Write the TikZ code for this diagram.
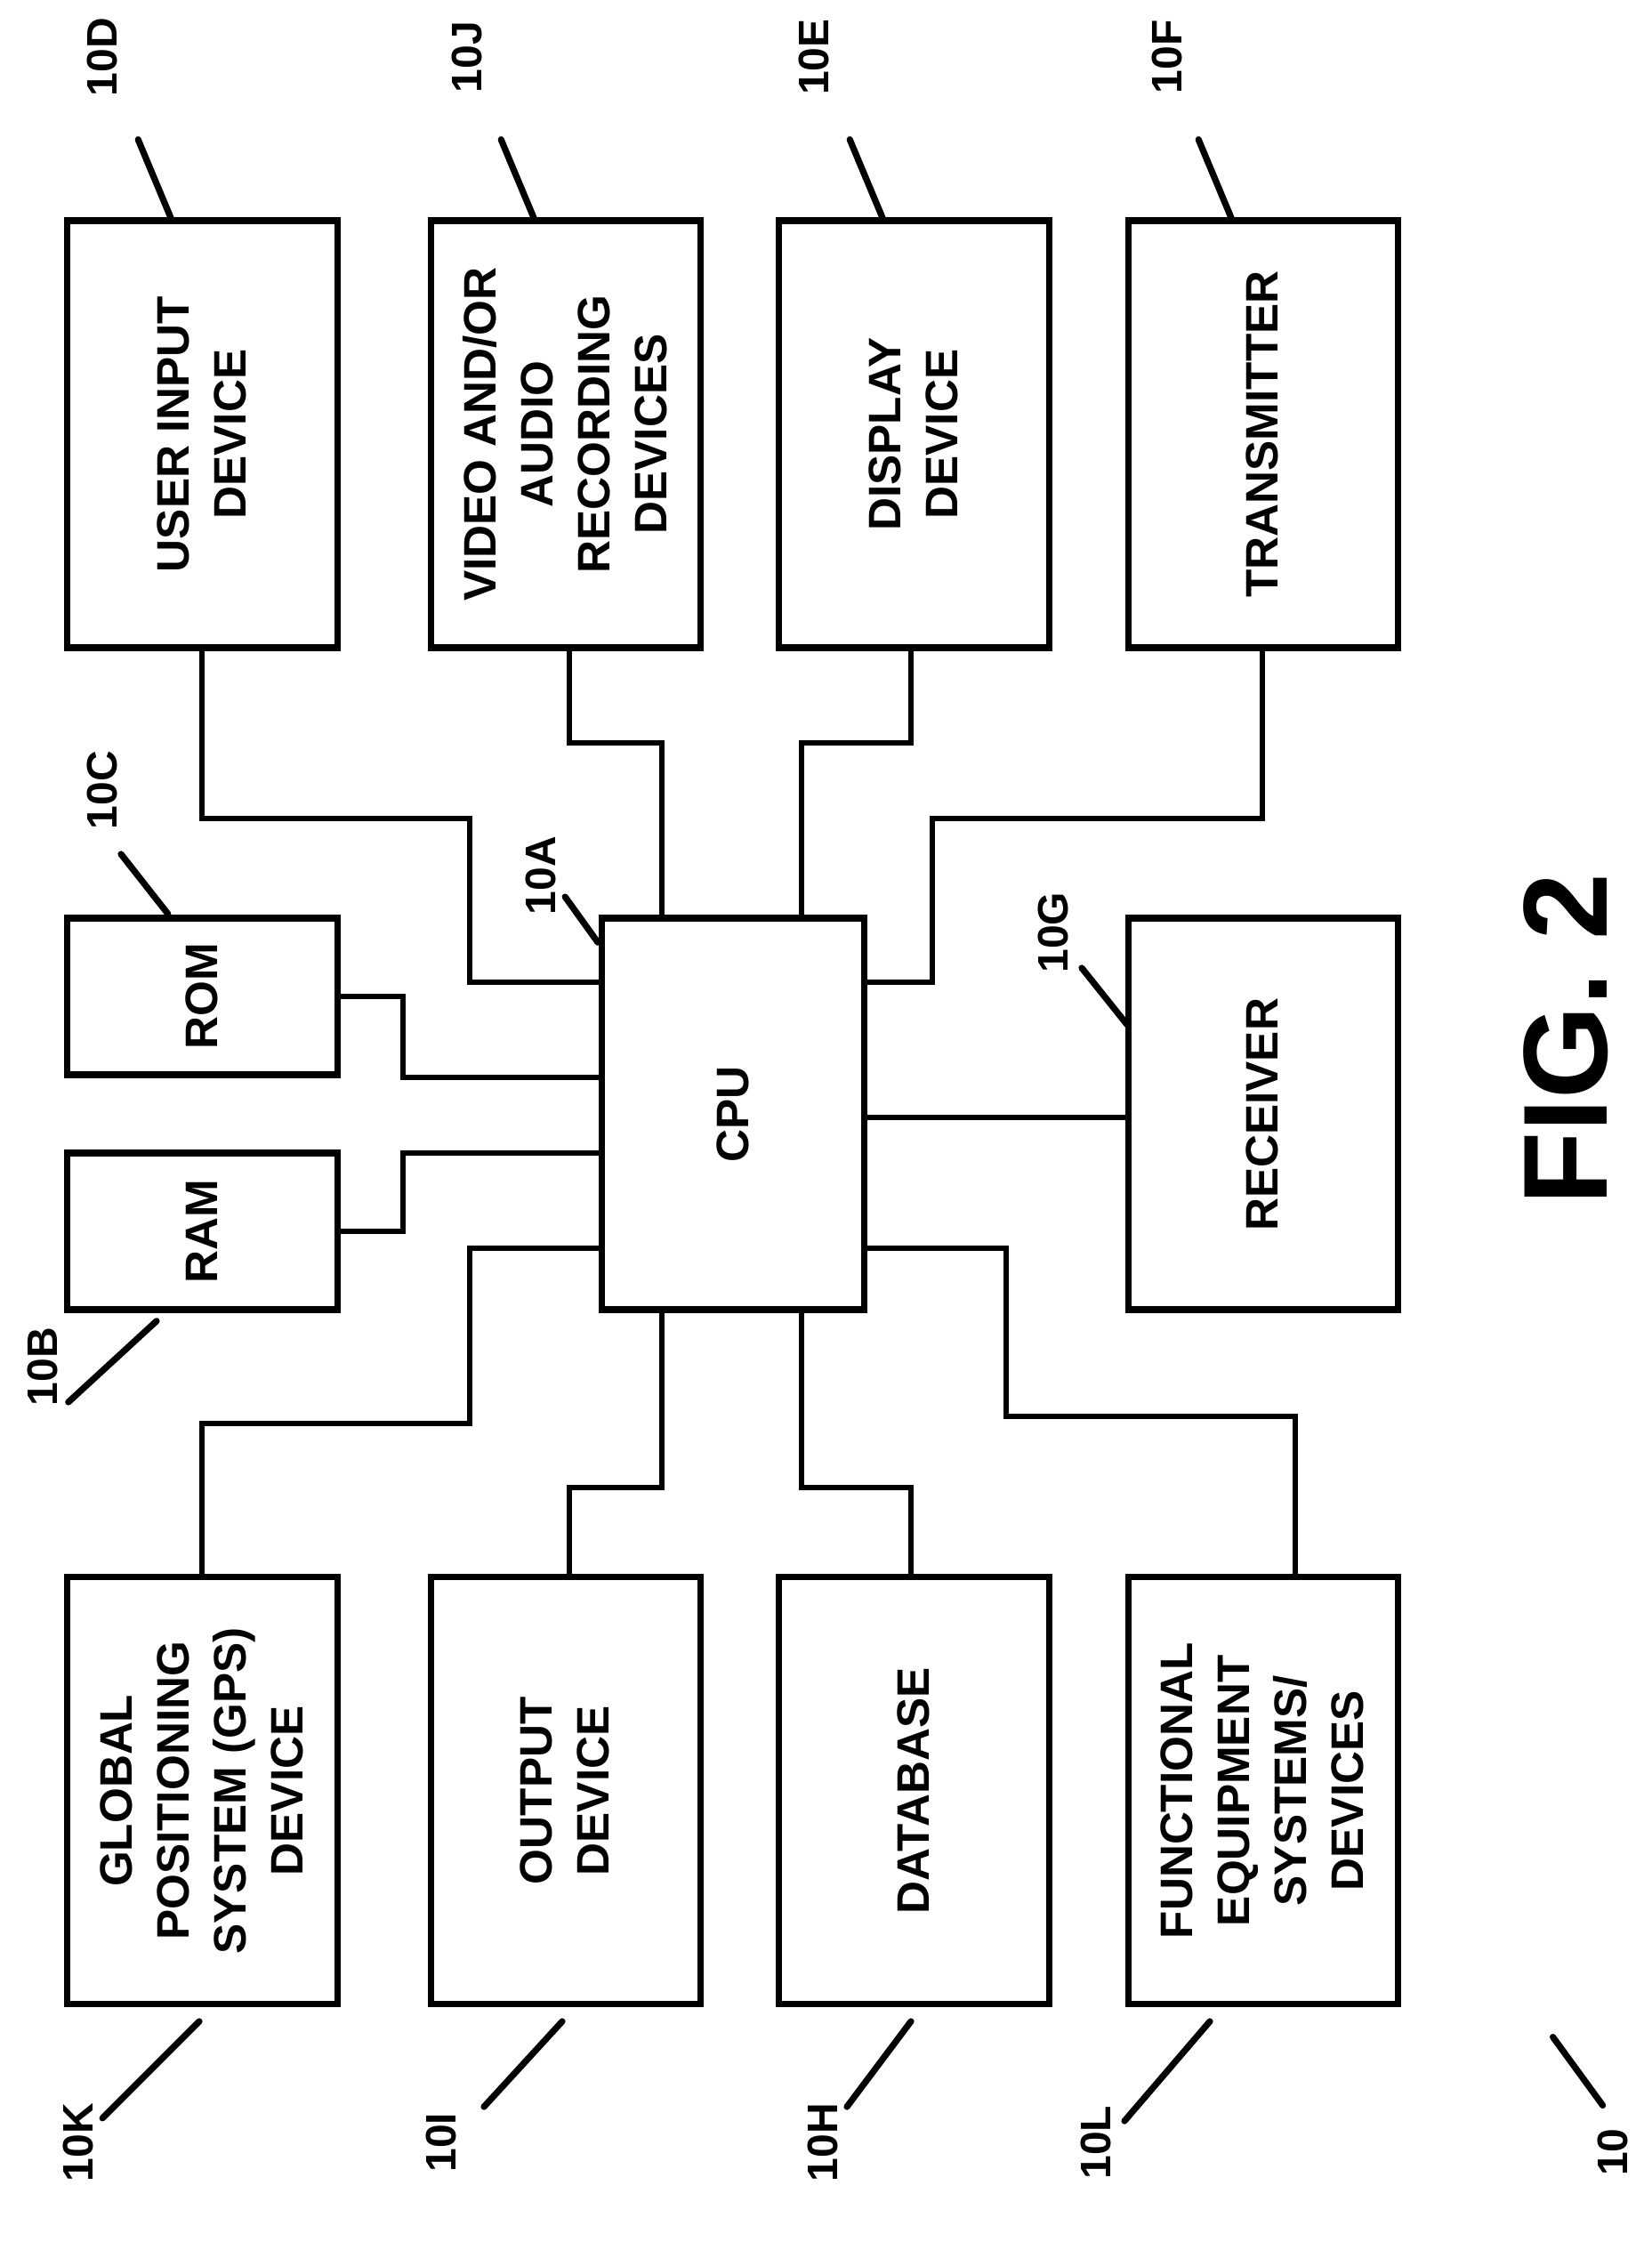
\documentclass[tikz,border=0pt]{standalone}
\usepackage{fontspec}
\setmainfont{Liberation Sans}
\begin{document}
\begin{tikzpicture}[x=1pt,y=-1pt,line width=4.5pt,
  box/.style={draw,line width=4.5pt},
  txt/.style={rotate=90,align=center,font=\fontsize{32}{40}\selectfont\bfseries},
  lbl/.style={rotate=90,font=\fontsize{30}{36}\selectfont\bfseries},
  w/.style={line width=4pt},
  ld/.style={line width=4.5pt,line cap=round}]
\useasboundingbox (0,0) rectangle (1160,1575);
\fill[white] (0,0) rectangle (1160,1575);
% boxes
\draw[box] (47,155) rectangle (237,455); \node[txt] (d) at (142,305) {USER INPUT\\DEVICE};
\draw[box] (303,155) rectangle (492,455); \node[txt] (j) at (397,305) {VIDEO AND/OR\\AUDIO\\RECORDING\\DEVICES};
\draw[box] (547,155) rectangle (737,455); \node[txt] (e) at (642,305) {DISPLAY\\DEVICE};
\draw[box] (793,155) rectangle (982,455); \node[txt] (f) at (887,305) {TRANSMITTER};
\draw[box] (47,645) rectangle (237,755); \node[txt] (c) at (142,700) {ROM};
\draw[box] (47,810) rectangle (237,920); \node[txt] (b) at (142,865) {RAM};
\draw[box] (423,645) rectangle (607,920); \node[txt] (a) at (515,783) {CPU};
\draw[box] (793,645) rectangle (982,920); \node[txt] (g) at (887,783) {RECEIVER};
\draw[box] (47,1108) rectangle (237,1408); \node[txt] (k) at (142,1258) {GLOBAL\\POSITIONING\\SYSTEM (GPS)\\DEVICE};
\draw[box] (303,1108) rectangle (492,1408); \node[txt] (i) at (397,1258) {OUTPUT\\DEVICE};
\draw[box] (547,1108) rectangle (737,1408); \node[txt] (h) at (642,1258) {DATABASE};
\draw[box] (793,1108) rectangle (982,1408); \node[txt] (l) at (887,1258) {FUNCTIONAL\\EQUIPMENT\\SYSTEMS/\\DEVICES};
% connectors
\draw[w] (142,455) |- (330,575) |- (423,690);
\draw[w] (400,455) |- (465,522) -- (465,645);
\draw[w] (640,455) |- (563,522) -- (563,645);
\draw[w] (887,455) |- (655,575) |- (607,690);
\draw[w] (237,700) -| (283,757) -- (423,757);
\draw[w] (237,865) -| (283,810) -- (423,810);
\draw[w] (607,785) -- (793,785);
\draw[w] (142,1108) |- (330,1000) |- (423,877);
\draw[w] (400,1108) |- (465,1045) -- (465,920);
\draw[w] (640,1108) |- (563,1045) -- (563,920);
\draw[w] (910,1108) |- (707,995) |- (607,877);
% labels
\node[lbl] (l10d) at (72,40) {10D}; \draw[ld] (97,98) -- (120,153);
\node[lbl] (l10j) at (328,40) {10J}; \draw[ld] (352,98) -- (375,153);
\node[lbl] (l10e) at (572,40) {10E}; \draw[ld] (597,98) -- (620,153);
\node[lbl] (l10f) at (820,40) {10F}; \draw[ld] (842,98) -- (865,153);
\node[lbl] (l10c) at (72,555) {10C}; \draw[ld] (85,600) -- (118,642);
\node[lbl] (l10a) at (380,615) {10A}; \draw[ld] (397,630) -- (420,662);
\node[lbl] (l10g) at (740,655) {10G}; \draw[ld] (760,680) -- (792,720);
\node[lbl] (l10b) at (30,960) {10B}; \draw[ld] (48,985) -- (110,928);
\node[lbl] (l10k) at (55,1505) {10K}; \draw[ld] (72,1488) -- (140,1420);
\node[lbl] (l10i) at (310,1505) {10I}; \draw[ld] (340,1480) -- (395,1420);
\node[lbl] (l10h) at (578,1505) {10H}; \draw[ld] (595,1480) -- (640,1420);
\node[lbl] (l10l) at (770,1505) {10L}; \draw[ld] (790,1490) -- (850,1420);
\node[lbl] (l10) at (1133,1512) {10}; \draw[ld] (1091,1431) -- (1126,1479);
\node[rotate=90,font=\fontsize{84}{90}\selectfont\bfseries] (fig) at (1100,730) {FIG. 2};
\end{tikzpicture}
\end{document}
